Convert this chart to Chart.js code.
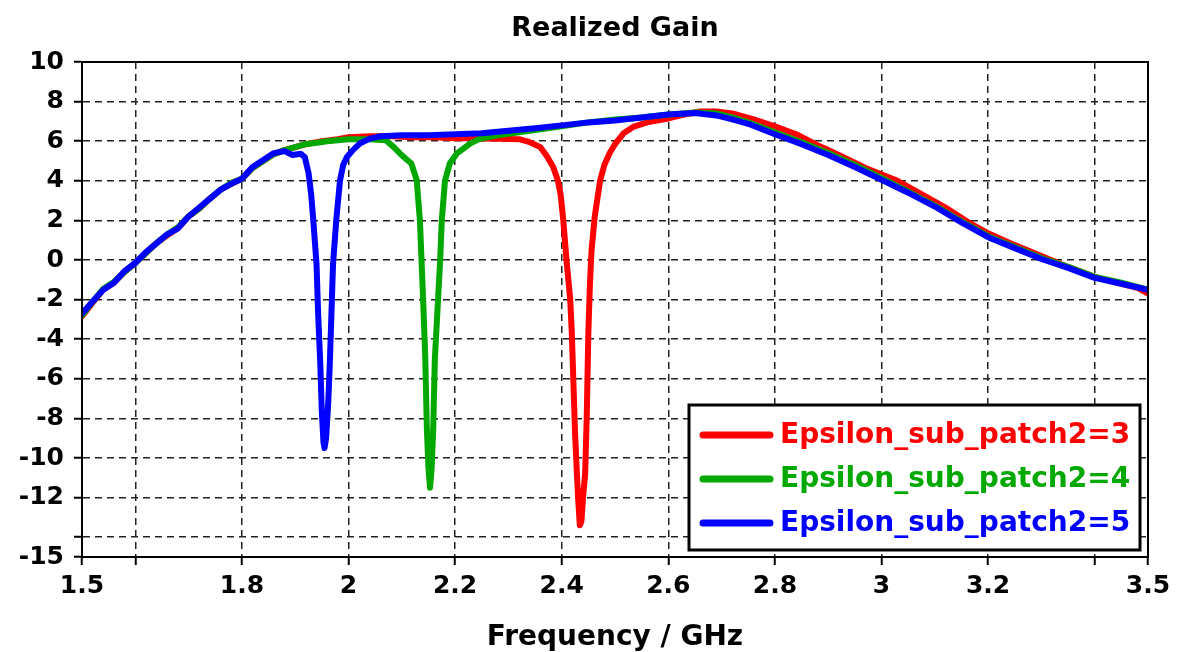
<!DOCTYPE html>
<html>
<head>
<meta charset="utf-8">
<title>Realized Gain</title>
<script src="https://cdn.jsdelivr.net/npm/chart.js@4.4.0/dist/chart.umd.min.js"></script>
<style>
    html, body { margin: 0; padding: 0; background: #fff; }
    #wrap { width: 1178px; height: 652px; }
</style>
</head>
<body>
<div id="wrap"><canvas id="gainChart" width="1178" height="652"></canvas></div>
<script>
// Tick positions
const X_TICKS = [1.5, 1.6, 1.8, 2.0, 2.2, 2.4, 2.6, 2.8, 3.0, 3.2, 3.4, 3.5];
const X_HIDDEN = [1.6, 3.4];
const Y_TICKS = [-15, -14, -12, -10, -8, -6, -4, -2, 0, 2, 4, 6, 8, 10];
const Y_HIDDEN = [-14];

// Series labels and colours
const LABELS = ['Epsilon_sub_patch2=3', 'Epsilon_sub_patch2=4', 'Epsilon_sub_patch2=5'];
const COLORS = ['#ff0000', '#00a800', '#0000ff'];

// Epsilon = 3 (red)
const freqRed = [1.50, 1.52, 1.54, 1.56, 1.58, 1.60, 1.62, 1.64, 1.66, 1.68, 1.70, 1.72, 1.74, 1.76, 1.78, 1.80, 1.82, 1.84, 1.86, 1.88,
    1.90, 1.92, 1.95, 1.98, 2.00, 2.04, 2.08, 2.12, 2.16, 2.20, 2.24, 2.28, 2.32, 2.34, 2.36, 2.372, 2.384, 2.393, 2.398, 2.403,
    2.409, 2.416, 2.419, 2.422, 2.425, 2.428, 2.431, 2.434, 2.437, 2.440, 2.444, 2.447, 2.450, 2.453, 2.456, 2.462, 2.472, 2.48,
    2.49, 2.50, 2.516, 2.534, 2.56, 2.60, 2.63, 2.66, 2.69, 2.72, 2.76, 2.80, 2.84, 2.88, 2.92, 2.97, 3.03, 3.08, 3.12, 3.16,
    3.20, 3.25, 3.30, 3.35, 3.40, 3.45, 3.48, 3.50];
const gainRed = [-2.85, -2.15, -1.5, -1.15, -0.6, -0.15, 0.35, 0.85, 1.25, 1.6, 2.2, 2.6, 3.1, 3.55, 3.85, 4.1, 4.65, 5.0, 5.35, 5.55,
    5.7, 5.85, 6.0, 6.1, 6.2, 6.25, 6.25, 6.2, 6.2, 6.15, 6.15, 6.12, 6.1, 5.95, 5.7, 5.25, 4.7, 4.0, 3.3, 2.0,
    0.0, -2.0, -3.7, -6.2, -8.7, -10.5, -12.1, -13.4, -13.2, -12.0, -10.8, -7.9, -3.7, -1.2, 0.5, 2.2, 4.0, 4.8,
    5.4, 5.85, 6.4, 6.72, 6.95, 7.15, 7.35, 7.5, 7.5, 7.4, 7.1, 6.75, 6.35, 5.8, 5.3, 4.65, 4.0, 3.25, 2.65, 1.95,
    1.35, 0.75, 0.2, -0.35, -0.85, -1.2, -1.4, -1.7];

// Epsilon = 4 (green)
const freqGreen = [1.50, 1.52, 1.54, 1.56, 1.58, 1.60, 1.62, 1.64, 1.66, 1.68, 1.70, 1.72, 1.74, 1.76, 1.78, 1.80, 1.82, 1.84, 1.86, 1.88,
    1.92, 1.96, 2.00, 2.04, 2.07, 2.085, 2.097, 2.108, 2.118, 2.128, 2.134, 2.137, 2.140, 2.144, 2.147, 2.150, 2.153, 2.156,
    2.159, 2.162, 2.168, 2.172, 2.175, 2.181, 2.19, 2.203, 2.228, 2.247, 2.28, 2.32, 2.36, 2.40, 2.45, 2.50, 2.55, 2.60,
    2.65, 2.69, 2.72, 2.75, 2.80, 2.85, 2.90, 2.95, 3.00, 3.05, 3.10, 3.15, 3.20, 3.25, 3.30, 3.35, 3.40, 3.45, 3.50];
const gainGreen = [-2.8, -2.1, -1.45, -1.1, -0.6, -0.15, 0.35, 0.85, 1.3, 1.65, 2.2, 2.6, 3.1, 3.55, 3.9, 4.1, 4.65, 5.0, 5.35, 5.55,
    5.85, 6.0, 6.1, 6.1, 6.05, 5.7, 5.37, 5.1, 4.87, 4.03, 2.0, 0.0, -2.0, -4.9, -8.5, -10.5, -11.5, -10.5,
    -8.5, -5.0, -2.0, 0.0, 2.0, 4.0, 4.87, 5.37, 5.88, 6.13, 6.3, 6.45, 6.6, 6.75, 6.95, 7.1, 7.2, 7.35,
    7.45, 7.4, 7.2, 6.95, 6.45, 5.95, 5.4, 4.8, 4.15, 3.45, 2.75, 1.95, 1.2, 0.65, 0.1, -0.35, -0.85, -1.15, -1.5];

// Epsilon = 5 (blue)
const freqBlue = [1.50, 1.52, 1.54, 1.56, 1.58, 1.60, 1.62, 1.64, 1.66, 1.68, 1.70, 1.72, 1.74, 1.76, 1.78, 1.80, 1.82, 1.84, 1.86, 1.88,
    1.895, 1.91, 1.918, 1.925, 1.93, 1.934, 1.940, 1.943, 1.947, 1.950, 1.953, 1.955, 1.958, 1.962, 1.965, 1.968, 1.971,
    1.977, 1.984, 1.99, 1.997, 2.01, 2.022, 2.04, 2.06, 2.10, 2.15, 2.20, 2.25, 2.31, 2.35, 2.40, 2.45, 2.50, 2.55, 2.60,
    2.65, 2.69, 2.72, 2.75, 2.80, 2.85, 2.90, 2.95, 3.00, 3.05, 3.10, 3.15, 3.20, 3.25, 3.30, 3.35, 3.40, 3.45, 3.50];
const gainBlue = [-2.7, -2.1, -1.5, -1.15, -0.55, -0.15, 0.4, 0.85, 1.3, 1.6, 2.2, 2.65, 3.1, 3.55, 3.85, 4.1, 4.7, 5.05, 5.4, 5.5,
    5.3, 5.37, 5.2, 4.4, 3.3, 2.0, -0.2, -2.7, -5.2, -7.7, -9.2, -9.5, -9.0, -7.2, -5.2, -2.7, -0.2,
    2.0, 4.0, 4.8, 5.2, 5.6, 5.9, 6.13, 6.25, 6.3, 6.3, 6.35, 6.4, 6.55, 6.65, 6.8, 6.95, 7.05, 7.2, 7.35,
    7.42, 7.3, 7.1, 6.88, 6.35, 5.85, 5.3, 4.7, 4.05, 3.4, 2.7, 1.9, 1.15, 0.6, 0.05, -0.4, -0.9, -1.2, -1.5];

const FONT = 'DejaVu Sans';
const TITLE = 'Realized Gain';

function toPoints(xs, ys) {
    return xs.map((x, i) => ({ x: x, y: ys[i] }));
}

// Title centred over the plot area, and a box around the plot
const frameBox = {
    id: 'frameBox',
    afterDatasetsDraw(chart) {
        const { ctx, chartArea: a } = chart;
        ctx.save();
        ctx.strokeStyle = '#000';
        ctx.lineWidth = 2;
        ctx.strokeRect(a.left, a.top, a.right - a.left, a.bottom - a.top);
        ctx.fillStyle = '#000';
        ctx.font = 'bold 27px ' + FONT;
        ctx.textAlign = 'center';
        ctx.textBaseline = 'middle';
        ctx.fillText(TITLE, (a.left + a.right) / 2, 29);
        ctx.restore();
    }
};

// Legend box drawn inside the plot, bottom right
const boxLegend = {
    id: 'boxLegend',
    afterDraw(chart) {
        const ctx = chart.ctx;
        const left = 689, top = 405, width = 451, height = 145;
        ctx.save();
        ctx.fillStyle = '#fff';
        ctx.fillRect(left, top, width, height);
        ctx.strokeStyle = '#000';
        ctx.lineWidth = 3;
        ctx.strokeRect(left, top, width, height);
        ctx.font = 'bold 28px ' + FONT;
        ctx.textBaseline = 'middle';
        chart.data.datasets.forEach((ds, i) => {
            const y = top + 30 + i * 44;
            ctx.strokeStyle = ds.borderColor;
            ctx.lineWidth = 7;
            ctx.lineCap = 'round';
            ctx.beginPath();
            ctx.moveTo(703, y);
            ctx.lineTo(770, y);
            ctx.stroke();
            ctx.fillStyle = ds.borderColor;
            ctx.fillText(ds.label, 780, y + 1);
        });
        ctx.restore();
    }
};

const datasets = [
    { label: LABELS[0], data: toPoints(freqRed, gainRed), borderColor: COLORS[0], order: 3 },
    { label: LABELS[1], data: toPoints(freqGreen, gainGreen), borderColor: COLORS[1], order: 2 },
    { label: LABELS[2], data: toPoints(freqBlue, gainBlue), borderColor: COLORS[2], order: 1 }
].map(ds => Object.assign(ds, {
    borderWidth: 6,
    pointRadius: 0,
    tension: 0,
    fill: false,
    borderJoinStyle: 'round',
    borderCapStyle: 'round'
}));

const ctx = document.getElementById('gainChart').getContext('2d');
const gainChart = new Chart(ctx, {
    type: 'line',
    data: { datasets: datasets },
    options: {
        responsive: false,
        animation: false,
        layout: { padding: { left: 0, right: 30, top: 62, bottom: 0 } },
        plugins: {
            legend: { display: false },
            tooltip: { enabled: false },
            title: { display: false }
        },
        scales: {
            x: {
                type: 'linear',
                min: 1.5,
                max: 3.5,
                afterBuildTicks: scale => { scale.ticks = X_TICKS.map(v => ({ value: v })); },
                afterFit: scale => { scale.height = 95; },
                ticks: {
                    autoSkip: false,
                    maxRotation: 0,
                    color: '#000',
                    padding: 6,
                    font: { family: FONT, size: 25, weight: 'bold' },
                    callback: v => X_HIDDEN.includes(Math.round(v * 10) / 10) ? '' : String(Math.round(v * 10) / 10)
                },
                grid: { color: '#222', lineWidth: 1.5, tickLength: 8, tickColor: '#000', tickWidth: 2 },
                border: { color: '#000', width: 2, dash: [7, 5] },
                title: {
                    display: true,
                    text: 'Frequency / GHz',
                    color: '#000',
                    font: { family: FONT, size: 28, weight: 'bold', lineHeight: 1.0 },
                    padding: { top: 0, bottom: 0 }
                }
            },
            y: {
                min: -15,
                max: 10,
                afterBuildTicks: scale => { scale.ticks = Y_TICKS.map(v => ({ value: v })); },
                afterFit: scale => { scale.width = 82; },
                ticks: {
                    autoSkip: false,
                    color: '#000',
                    padding: 10,
                    font: { family: FONT, size: 25, weight: 'bold' },
                    callback: v => Y_HIDDEN.includes(v) ? '' : String(v)
                },
                grid: { color: '#222', lineWidth: 1.5, tickLength: 8, tickColor: '#000', tickWidth: 2 },
                border: { color: '#000', width: 2, dash: [7, 5] }
            }
        }
    },
    plugins: [frameBox, boxLegend]
});
</script>
</body>
</html>
